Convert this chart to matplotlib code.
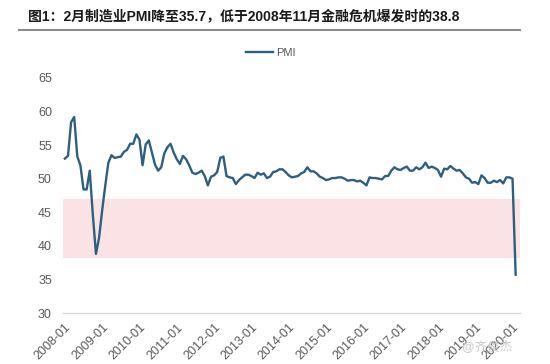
import matplotlib
matplotlib.use("Agg")
import matplotlib.pyplot as plt
import pandas as pd

# monthly official manufacturing PMI, 2008-01 .. 2020-02
PMI = [
    53.0, 53.4, 58.4, 59.2, 53.3, 52.0, 48.4, 48.4, 51.2, 44.6, 38.8, 41.2,  # 2008
    45.3, 49.0, 52.4, 53.5, 53.1, 53.2, 53.3, 54.0, 54.3, 55.2, 55.2, 56.6,  # 2009
    55.8, 52.0, 55.1, 55.7, 53.9, 52.1, 51.2, 51.7, 53.8, 54.7, 55.2, 53.9,  # 2010
    52.9, 52.2, 53.4, 52.9, 52.0, 50.9, 50.7, 50.9, 51.2, 50.4, 49.0, 50.3,  # 2011
    50.5, 51.0, 53.1, 53.3, 50.4, 50.2, 50.1, 49.2, 49.8, 50.2, 50.6, 50.6,  # 2012
    50.4, 50.1, 50.9, 50.6, 50.8, 50.1, 50.3, 51.0, 51.1, 51.4, 51.4, 51.0,  # 2013
    50.5, 50.2, 50.3, 50.4, 50.8, 51.0, 51.7, 51.1, 51.1, 50.8, 50.3, 50.1,  # 2014
    49.8, 49.9, 50.1, 50.1, 50.2, 50.2, 50.0, 49.7, 49.8, 49.8, 49.6, 49.7,  # 2015
    49.4, 49.0, 50.2, 50.1, 50.1, 50.0, 49.9, 50.4, 50.4, 51.2, 51.7, 51.4,  # 2016
    51.3, 51.6, 51.8, 51.2, 51.2, 51.7, 51.4, 51.7, 52.4, 51.6, 51.8, 51.6,  # 2017
    51.3, 50.3, 51.5, 51.4, 51.9, 51.5, 51.2, 51.3, 50.8, 50.2, 50.0, 49.4,  # 2018
    49.5, 49.2, 50.5, 50.1, 49.4, 49.4, 49.7, 49.5, 49.8, 49.3, 50.2, 50.2,  # 2019
    50.0, 35.7,                                                              # 2020
]
MONTHS = pd.date_range("2008-01", periods=len(PMI), freq="MS").strftime("%Y-%m").tolist()
TICK_LABELS = [m for m in MONTHS if m.endswith("-01")]
YTICKS = [30, 35, 40, 45, 50, 55, 60, 65]
BAND = (38.2, 47.0)

TITLE = "图1：2月制造业PMI降至35.7，低于2008年11月金融危机爆发时的38.8"
LINE_COLOR = "#2c5f80"
BAND_COLOR = "#fbe2e5"
TEXT_GRAY = "#595959"
FONTS = ["Liberation Sans", "Noto Sans CJK SC", "DejaVu Sans"]

plt.rcParams["font.family"] = FONTS

W, H = 550, 364
fig = plt.figure(figsize=(W / 100, H / 100), dpi=100)
ax = fig.add_axes([63 / W, 1 - 313 / H, 457 / W, 235 / H])

x = list(range(len(PMI)))
ax.fill_between([-0.6, len(PMI) + 0.4], BAND[0], BAND[1], color=BAND_COLOR, lw=0, zorder=1)
ax.plot(x, PMI, color=LINE_COLOR, lw=1.7, label="PMI", zorder=3, solid_joinstyle="round")

ax.set_xlim(-0.6, len(PMI) + 0.4)
ax.set_ylim(30, 65)
ax.set_yticks(YTICKS)
ax.set_xticks([MONTHS.index(t) for t in TICK_LABELS])
ax.set_xticklabels(TICK_LABELS, rotation=45, ha="right", rotation_mode="anchor")
ax.tick_params(axis="both", length=0, labelsize=9, colors=TEXT_GRAY)
ax.tick_params(axis="y", pad=8)
ax.tick_params(axis="x", pad=6)

for side in ["top", "right", "left"]:
    ax.spines[side].set_visible(False)
ax.spines["bottom"].set_color("#d9d9d9")
ax.spines["bottom"].set_linewidth(1.0)

leg = ax.legend(loc="center", bbox_to_anchor=(271 / W, 1 - 53 / H), bbox_transform=fig.transFigure,
                frameon=False, fontsize=8, handlelength=2.4, handletextpad=0.3)
for t in leg.get_texts():
    t.set_color(TEXT_GRAY)

fig.text(28 / W, 1 - 16 / H, TITLE, fontsize=10, fontweight="bold", va="center", ha="left",
         color="#1a1a1a")
fig.add_artist(plt.Line2D([19 / W, 520 / W], [1 - 30 / H, 1 - 30 / H], color="#8c8c8c", lw=1.5,
                          transform=fig.transFigure))
fig.text(462 / W, 1 - 347 / H, "@齐俊杰", fontsize=9, color="#c8c8c8", va="center", ha="left")

fig.savefig("out.png", dpi=100, facecolor="white")
